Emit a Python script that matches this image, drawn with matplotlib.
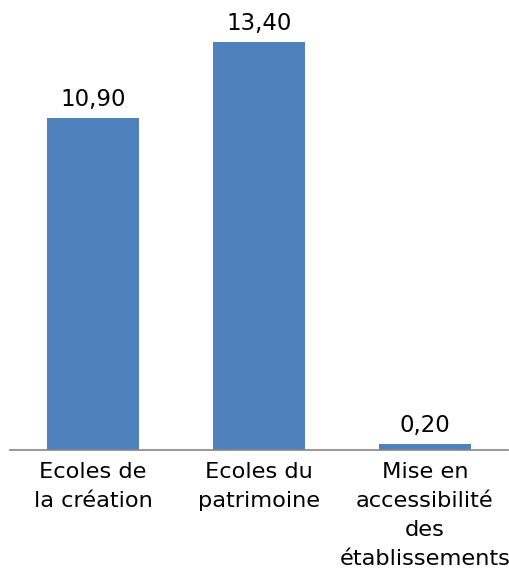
import matplotlib.pyplot as plt
import numpy as np

categories = ["Ecoles de\nla création", "Ecoles du\npatrimoine",
              "Mise en\naccessibilité\ndes\nétablissements"]
values = [10.90, 13.40, 0.20]
value_labels = ["10,90", "13,40", "0,20"]

plt.rcParams["font.family"] = ["DejaVu Sans"]

fig = plt.figure(figsize=(5.10, 5.75), dpi=100)
ax = fig.add_axes([10 / 510, 1 - 450 / 575, 498 / 510, 450 / 575])

x = np.arange(len(categories))
bars = ax.bar(x, values, width=0.555, color="#4F81BD", zorder=2)

for b, lab in zip(bars, value_labels):
    ax.text(b.get_x() + b.get_width() / 2, b.get_height() + 0.22, lab,
            ha="center", va="bottom", fontsize=16.5, color="#000000")

ax.set_xlim(-0.5, 2.5)
ax.set_ylim(0, 450 / 30.45)
ax.set_yticks([])
ax.set_xticks(x)
ax.set_xticklabels(categories, fontsize=16.2, linespacing=1.56,
                   color="#000000")
ax.tick_params(axis="x", length=0, pad=9)
for side in ["top", "left", "right"]:
    ax.spines[side].set_visible(False)
ax.spines["bottom"].set_color("#868686")
ax.spines["bottom"].set_linewidth(1.2)
ax.patch.set_alpha(0)

fig.savefig("out.png", dpi=100)
